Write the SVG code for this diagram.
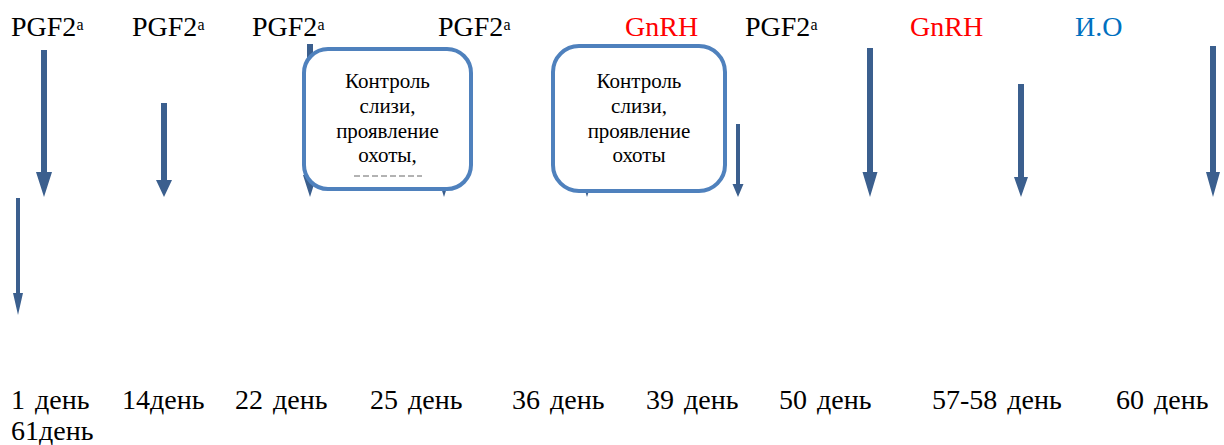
<svg xmlns="http://www.w3.org/2000/svg" width="1224" height="445" viewBox="0 0 1224 445">
<style>
text{font-family:"Liberation Serif","Times New Roman",serif;}
.lbl{font-size:28px;fill:#000;}
.red{fill:#FF0000;}
.blue{fill:#0070C0;}
.sup{font-size:16px;}
.day{font-size:28px;fill:#000;word-spacing:3px;}
.box{fill:#FFFFFF;stroke:#4F81BD;stroke-width:4;}
.bt{font-size:21px;fill:#000;text-anchor:middle;}
.arr{fill:#3B5F8E;stroke:none;}
</style>
<rect width="1224" height="445" fill="#FFFFFF"/>
<g id="connectors">
<polygon class="arr" points="41,50 47,50 47,172 52,172 44,197 36,172 41,172"/>
<polygon class="arr" points="161,103 167,103 167,180 172,180 164,197 156,180 161,180"/>
<polygon class="arr" points="307,44 313,44 313,175 317,175 310,197 303,175 307,175"/>
<polygon class="arr" points="441,60 447,60 447,175 451,175 444,197 437,175 441,175"/>
<polygon class="arr" points="584,60 590,60 590,175 594,175 587,197 580,175 584,175"/>
<polygon class="arr" points="736,124 740,124 740,184 743.5,184 738,197 732.5,184 736,184"/>
<polygon class="arr" points="867,48 873,48 873,172 877.5,172 870,197 862.5,172 867,172"/>
<polygon class="arr" points="1018,84 1024,84 1024,177 1028,177 1021,197 1014,177 1018,177"/>
<polygon class="arr" points="1210,46 1216,46 1216,172 1220,172 1213,197 1206,172 1210,172"/>
<polygon class="arr" points="16,198 20,198 20,293 23,293 18,315 13,293 16,293"/>
</g>
<g id="box1">
<rect class="box" x="304" y="49" width="167" height="140" rx="24"/>
<text class="bt" x="387.5" y="88">Контроль</text>
<text class="bt" x="387.5" y="113">слизи,</text>
<text class="bt" x="387.5" y="138">проявление</text>
<text class="bt" x="387.5" y="162">охоты,</text>
<line x1="354" y1="176" x2="422" y2="176" stroke="#666" stroke-width="1" stroke-dasharray="6,3"/>
</g>
<g id="box2">
<rect class="box" x="553" y="46" width="172" height="145" rx="26"/>
<text class="bt" x="639" y="88">Контроль</text>
<text class="bt" x="639" y="113">слизи,</text>
<text class="bt" x="639" y="138">проявление</text>
<text class="bt" x="639" y="162">охоты</text>
</g>
<g id="top-labels">
<text id="t1" class="lbl" x="11" y="36">PGF2<tspan class="sup" dy="-6">a</tspan></text>
<text id="t2" class="lbl" x="132" y="36">PGF2<tspan class="sup" dy="-6">a</tspan></text>
<text id="t3" class="lbl" x="252" y="36">PGF2<tspan class="sup" dy="-6">a</tspan></text>
<text id="t4" class="lbl" x="438" y="36">PGF2<tspan class="sup" dy="-6">a</tspan></text>
<text id="t5" class="lbl red" x="625" y="36">GnRH</text>
<text id="t6" class="lbl" x="745" y="36">PGF2<tspan class="sup" dy="-6">a</tspan></text>
<text id="t7" class="lbl red" x="910" y="36">GnRH</text>
<text id="t8" class="lbl blue" x="1075" y="36">И.О</text>
</g>
<g id="day-labels">
<text class="day" x="11" y="409">1 день</text>
<text class="day" x="122" y="409">14день</text>
<text class="day" x="235" y="409">22 день</text>
<text class="day" x="370" y="409">25 день</text>
<text class="day" x="512" y="409">36 день</text>
<text class="day" x="646" y="409">39 день</text>
<text class="day" x="779" y="409">50 день</text>
<text class="day" x="932" y="409">57-58 день</text>
<text class="day" x="1116" y="409">60 день</text>
<text class="day" x="11" y="440">61день</text>
</g>
</svg>
